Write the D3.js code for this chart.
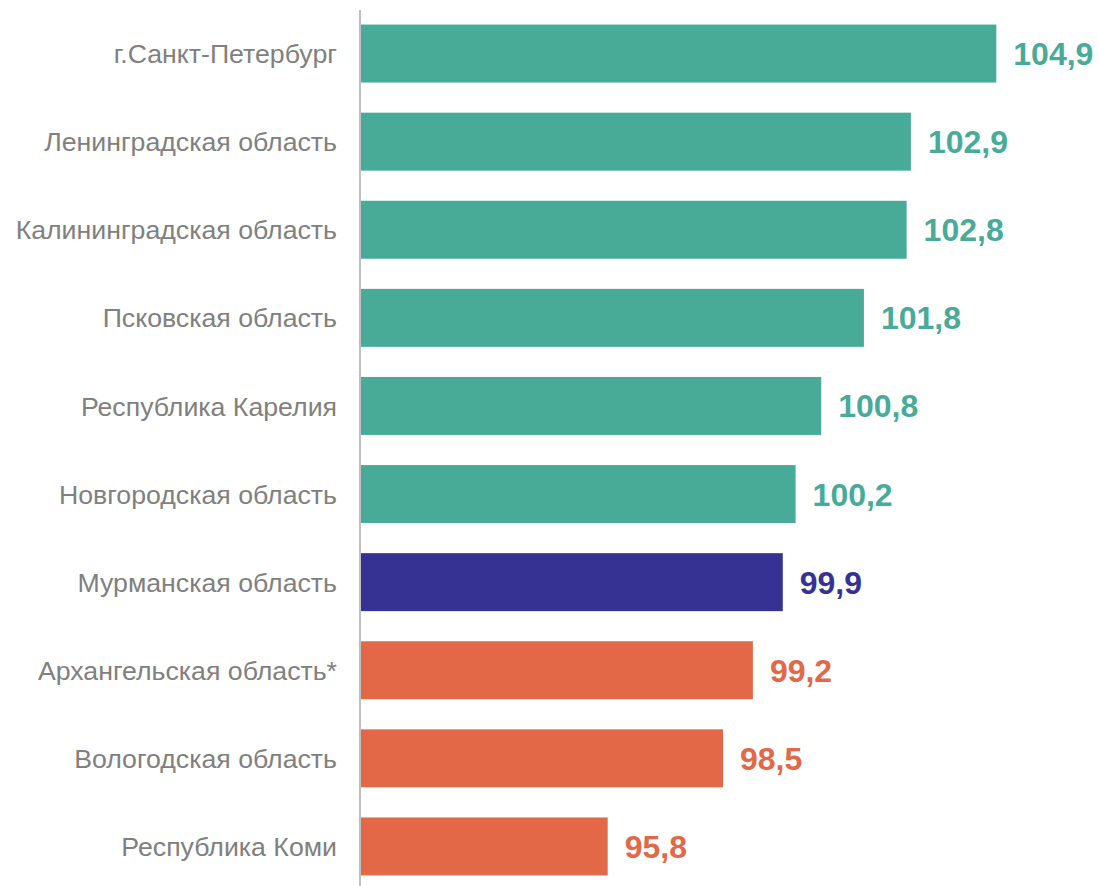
<!DOCTYPE html>
<html>
<head>
<meta charset="utf-8">
<script src="https://cdn.jsdelivr.net/npm/d3@7"></script>
<style>
  html, body { margin: 0; padding: 0; background: #ffffff; }
  svg { display: block; }
</style>
</head>
<body>
<svg id="chart" width="1099" height="886"></svg>
<script>
const categories = [
  "г.Санкт-Петербург",
  "Ленинградская область",
  "Калининградская область",
  "Псковская область",
  "Республика Карелия",
  "Новгородская область",
  "Мурманская область",
  "Архангельская область*",
  "Вологодская область",
  "Республика Коми"
];
const values = [104.9, 102.9, 102.8, 101.8, 100.8, 100.2, 99.9, 99.2, 98.5, 95.8];
const groups = ["above", "above", "above", "above", "above", "above", "self", "below", "below", "below"];
const groupColors = { above: "#47ab98", self: "#363294", below: "#e26847" };

const data = categories.map((c, i) => ({ name: c, value: values[i], group: groups[i] }));

const svg = d3.select("#chart");
const axisX = 360;
const font = "'Liberation Sans', Arial, sans-serif";

const x = d3.scaleLinear().domain([90, 104.9]).range([axisX, 996.3]);
const y = d3.scaleBand()
  .domain(categories)
  .range([9.5, 890.5])
  .paddingInner(0.342)
  .paddingOuter(0.171);

const fmt = v => d3.format(".1f")(v).replace(".", ",");

svg.append("g").selectAll("rect")
  .data(data)
  .join("rect")
  .attr("x", x(90))
  .attr("y", d => y(d.name))
  .attr("width", d => x(d.value) - x(90))
  .attr("height", y.bandwidth())
  .attr("fill", d => groupColors[d.group]);

// category labels
svg.append("g").selectAll("text")
  .data(data)
  .join("text")
  .attr("x", axisX - 23)
  .attr("y", d => y(d.name) + y.bandwidth() / 2)
  .attr("dy", "0.36em")
  .attr("text-anchor", "end")
  .attr("font-family", font)
  .attr("font-size", 26.7)
  .attr("fill", "#808080")
  .text(d => d.name);

// value labels
svg.append("g").selectAll("text")
  .data(data)
  .join("text")
  .attr("x", d => x(d.value) + 17)
  .attr("y", d => y(d.name) + y.bandwidth() / 2)
  .attr("dy", "0.36em")
  .attr("font-family", font)
  .attr("font-size", 32)
  .attr("font-weight", "bold")
  .attr("fill", d => groupColors[d.group])
  .text(d => fmt(d.value));

// vertical axis line
svg.append("line")
  .attr("x1", axisX).attr("x2", axisX)
  .attr("y1", 10).attr("y2", 886)
  .attr("stroke", "#bfbfbf")
  .attr("stroke-width", 2);
</script>
</body>
</html>
